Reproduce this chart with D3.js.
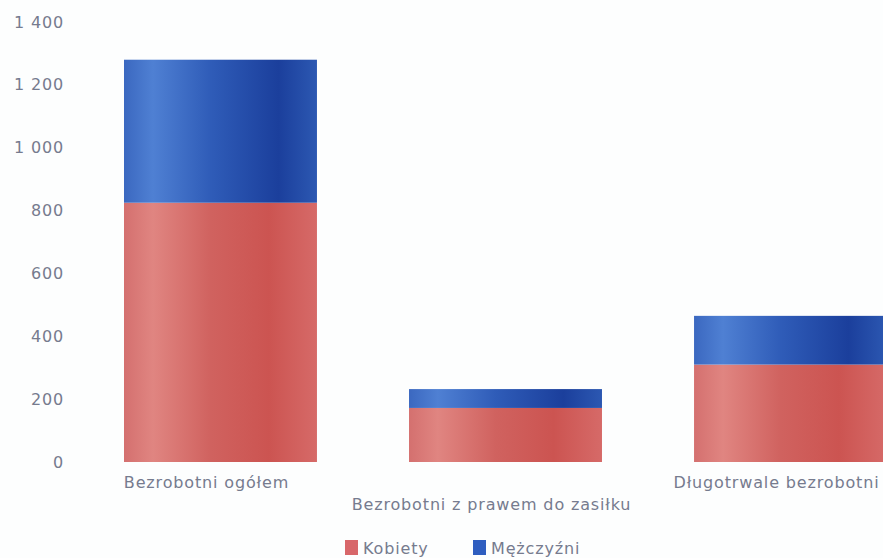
<!DOCTYPE html>
<html>
<head>
<meta charset="utf-8">
<script src="https://cdn.jsdelivr.net/npm/d3@7"></script>
<style>
  body { margin: 0; background: #fdfefe; }
  svg { display: block; }
  text { font-family: "DejaVu Sans", "Open Sans", sans-serif; fill: #767b8e; letter-spacing: 0.85px; }
</style>
</head>
<body>
<div id="canvas"></div>
<script>
const categories = ["Bezrobotni ogółem", "Bezrobotni z prawem do zasiłku", "Długotrwale bezrobotni"];
const kobiety = [825, 172, 310];
const mezczyzni = [455, 60, 155];
const seriesNames = ["Kobiety", "Mężczyźni"];
const yTicks = [0, 200, 400, 600, 800, 1000, 1200, 1400];

const width = 883;
const height = 558;

const rows = categories.map((c, i) => ({ cat: c, Kobiety: kobiety[i], "Mężczyźni": mezczyzni[i] }));
const stacked = d3.stack().keys(seriesNames)(rows);

const svg = d3.select("#canvas").append("svg")
  .attr("width", width)
  .attr("height", height);

const defs = svg.append("defs");
function grad(id, stops) {
  const g = defs.append("linearGradient").attr("id", id)
    .attr("x1", "0%").attr("x2", "100%").attr("y1", "0%").attr("y2", "0%");
  stops.forEach(s => g.append("stop").attr("offset", s[0]).attr("stop-color", s[1]));
}
grad("gRed", [["0%", "#d4706f"], ["15%", "#e08581"], ["45%", "#d0625f"], ["75%", "#cc5451"], ["100%", "#d66a68"]]);
grad("gBlue", [["0%", "#3b68c0"], ["15%", "#4f80d3"], ["45%", "#2f5cb8"], ["80%", "#1b3f9c"], ["100%", "#2c58b2"]]);
const fills = { "Kobiety": "url(#gRed)", "Mężczyźni": "url(#gBlue)" };
const swatch = { "Kobiety": "#d8676a", "Mężczyźni": "#2f5ec0" };

const y = d3.scaleLinear().domain([0, 1400]).range([462, 22]);
const x = d3.scaleBand().domain(categories).range([124, 887]).paddingInner(0.323).paddingOuter(0);

// y axis labels only
const yAxis = svg.append("g")
  .attr("transform", "translate(64,0)")
  .call(d3.axisLeft(y).tickValues(yTicks).tickSize(0).tickPadding(0)
    .tickFormat(d => d3.format(",")(d).replace(",", " ")));
yAxis.select(".domain").remove();
yAxis.selectAll("text").style("font-size", "16px").attr("fill", "#767b8e").style("font-family", null);

svg.append("g").selectAll("g").data(stacked).join("g")
  .attr("fill", d => fills[d.key])
  .selectAll("rect").data(d => d).join("rect")
  .attr("x", d => x(d.data.cat))
  .attr("y", d => y(d[1]))
  .attr("height", d => y(d[0]) - y(d[1]))
  .attr("width", x.bandwidth());

// category labels, middle one staggered down
svg.append("g").selectAll("text").data(categories).join("text")
  .attr("x", d => x(d) + x.bandwidth() / 2 - 14)
  .attr("y", (d, i) => i === 1 ? 510 : 488)
  .attr("text-anchor", "middle")
  .style("font-size", "16px")
  .text(d => d);

// legend
const legend = svg.append("g").selectAll("g").data(seriesNames).join("g")
  .attr("transform", (d, i) => `translate(${345 + i * 128},540)`);
legend.append("rect").attr("width", 13).attr("height", 15).attr("fill", d => swatch[d]);
legend.append("text").attr("x", 18).attr("y", 14).style("font-size", "16px").text(d => d);
</script>
</body>
</html>
